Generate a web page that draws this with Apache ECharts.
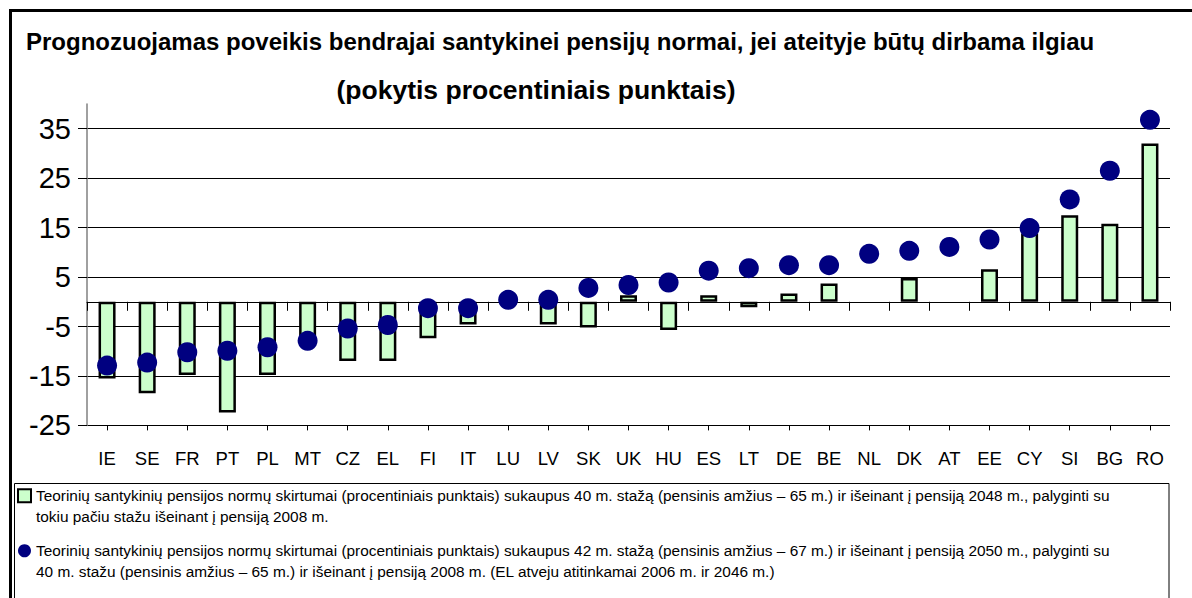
<!DOCTYPE html>
<html>
<head>
<meta charset="utf-8">
<script src="https://cdn.jsdelivr.net/npm/echarts@6/dist/echarts.min.js"></script>
<style>
html,body{margin:0;padding:0;background:#fff;}
#chart{width:1192px;height:598px;}
</style>
</head>
<body>
<div id="chart"></div>
<script>
const categories = ['IE','SE','FR','PT','PL','MT','CZ','EL','FI','IT','LU','LV','SK','UK','HU','ES','LT','DE','BE','NL','DK','AT','EE','CY','SI','BG','RO'];
const bars40 = [-15.5,-18.5,-14.8,-22.4,-14.8,-7.0,-12.0,-12.0,-7.4,-4.6,null,-4.6,-5.2,1.3,-5.7,1.3,-1.1,1.7,3.7,null,4.8,null,6.6,13.8,17.5,15.8,32.0];
const dots42 = [-12.9,-12.3,-10.2,-9.9,-9.2,-7.9,-5.4,-4.7,-1.3,-1.3,0.4,0.4,2.8,3.4,3.9,6.3,6.8,7.4,7.4,9.7,10.3,11.1,12.6,14.9,20.7,26.5,36.8];
const titleLine1 = 'Prognozuojamas poveikis bendrajai santykinei pensijų normai, jei ateityje būtų dirbama ilgiau';
const titleLine2 = '(pokytis procentiniais punktais)';
const seriesName1 = 'Teorinių santykinių pensijos normų skirtumai (procentiniais punktais) sukaupus 40 m. stažą (pensinis amžius – 65 m.) ir išeinant į pensiją 2048 m., palyginti su\ntokiu pačiu stažu išeinant į pensiją 2008 m.';
const seriesName2 = 'Teorinių santykinių pensijos normų skirtumai (procentiniais punktais) sukaupus 42 m. stažą (pensinis amžius – 67 m.) ir išeinant į pensiją 2050 m., palyginti su\n40 m. stažu (pensinis amžius – 65 m.) ir išeinant į pensiją 2008 m. (EL atveju atitinkamai 2006 m. ir 2046 m.)';

const FONT = 'Liberation Sans, Arial, sans-serif';
const chart = echarts.init(document.getElementById('chart'), null, {renderer: 'svg'});
const option = {
  backgroundColor: '#fff',
  animation: false,
  textStyle: {fontFamily: FONT},
  title: [
    {text: titleLine1, left: 26, top: 29, padding: 0,
     textStyle: {fontFamily: FONT, fontSize: 24, fontWeight: 'bold', color: '#000'}},
    {text: titleLine2, left: 536, top: 76, padding: 0, textAlign: 'center',
     textStyle: {fontFamily: FONT, fontSize: 26.5, fontWeight: 'bold', color: '#000'}}
  ],
  grid: {left: 87, right: 22, top: 104, bottom: 172.6, containLabel: false},
  legend: {
    orient: 'vertical', left: 17, top: 465, padding: 0, itemGap: -6.5,
    itemWidth: 13, itemHeight: 13,
    selectedMode: false,
    formatter: function (name) { return '\n' + name; },
    textStyle: {fontFamily: FONT, fontSize: 15.4, color: '#000', lineHeight: 20.5},
    data: [
      {name: seriesName1, icon: 'rect'},
      {name: seriesName2, icon: 'circle'}
    ]
  },
  xAxis: [
    {type: 'category', data: categories, position: 'bottom',
     axisLine: {show: true, onZero: true, lineStyle: {color: '#000', width: 1}},
     axisTick: {show: true, interval: 0, length: 9, lineStyle: {color: '#000'}},
     axisLabel: {show: false}, splitLine: {show: false}},
    {type: 'category', data: categories, position: 'bottom',
     axisLine: {show: false, onZero: true},
     axisTick: {show: true, interval: 0, alignWithLabel: true, length: 5, lineStyle: {color: '#000'}},
     axisLabel: {show: false}, splitLine: {show: false}},
    {type: 'category', data: categories, position: 'bottom',
     axisLine: {show: false, onZero: false},
     axisTick: {show: false},
     axisLabel: {show: true, interval: 0, margin: 24, fontFamily: FONT, fontSize: 18.5, color: '#000'},
     splitLine: {show: false}}
  ],
  yAxis: {
    type: 'value', min: -25, max: 40, interval: 10,
    axisLine: {show: true, lineStyle: {color: '#808080', width: 1.5}},
    axisTick: {show: true, length: 9, lineStyle: {color: '#000'}},
    axisLabel: {fontFamily: FONT, fontSize: 29, color: '#000', margin: 16, showMaxLabel: false, padding: [8, 0, 0, 0]},
    splitLine: {show: true, showMaxLine: false, lineStyle: {color: '#000', width: 1}}
  },
  series: [
    {name: seriesName1, type: 'bar', xAxisIndex: 0, data: bars40, barWidth: 17,
     itemStyle: {color: '#CCFFCC', borderColor: '#000', borderWidth: 2.5}},
    {name: seriesName2, type: 'scatter', xAxisIndex: 0, data: dots42, symbol: 'circle', symbolSize: 20,
     itemStyle: {color: '#000080', opacity: 1}, z: 5}
  ],
  graphic: [
    {type: 'rect', shape: {x: 10.5, y: 10.5, width: 1300, height: 700},
     style: {fill: 'none', stroke: '#000', lineWidth: 3}, silent: true, z: 100},
    {type: 'rect', shape: {x: 14.5, y: 483.5, width: 1154.5, height: 200},
     style: {fill: 'none', stroke: '#000', lineWidth: 1}, silent: true, z: 100}
  ]
};
chart.setOption(option);
</script>
</body>
</html>
